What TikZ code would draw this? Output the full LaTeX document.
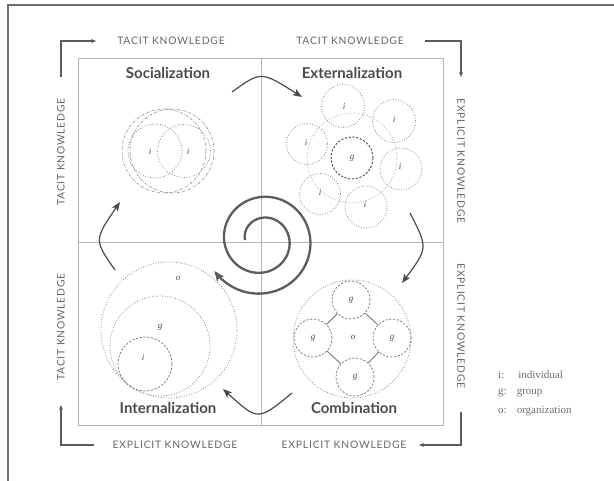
\documentclass[tikz,border=0pt]{standalone}
\usepackage{fontspec}
\setmainfont{Lato}
\newfontfamily\capsfont[LetterSpace=8]{Lato}
\newfontfamily\legfont{Liberation Serif}
\usetikzlibrary{arrows.meta}

\definecolor{ink}{HTML}{4A4A4A}
\definecolor{soft}{HTML}{8A8A8A}
\definecolor{gridc}{HTML}{B4B4B4}
\definecolor{framec}{HTML}{6E6E6E}

\begin{document}
\begin{tikzpicture}[x=1pt,y=-1pt,
  axislabel/.style={font=\capsfont\fontsize{10.3}{11}\selectfont, text=ink!85, inner sep=1pt},
  bracket/.style={draw=ink!90, line width=1.1pt, -{Stealth[length=5pt,width=4pt]}},
  qtitle/.style={font=\bfseries\fontsize{15}{17}\selectfont, text=ink},
  cyclearrow/.style={draw=ink, line width=1.2pt, -{Stealth[length=9pt,width=7pt,inset=2pt]}},
  ring/.style={circle, inner sep=0pt, minimum size=#1},
  dotline/.style={draw=soft, dash pattern=on 0.9pt off 1.7pt, line width=0.75pt},
  dashline/.style={draw=ink!75, dash pattern=on 2.2pt off 1.6pt, line width=0.75pt},
  dashdot/.style={draw=ink!60, dash pattern=on 2.4pt off 1.4pt on 0.6pt off 1.4pt, line width=0.7pt},
  lbl/.style={font=\legfont\itshape\fontsize{9}{10}\selectfont, text=ink, inner sep=0pt},
  legend/.style={font=\legfont\fontsize{11}{12}\selectfont, text=ink!80, anchor=west, inner sep=0pt}
]
\useasboundingbox (0,0) rectangle (614,481);

% page frame
\draw[framec, line width=1.3pt] (8,481) -- (8,5) -- (614,5);

% quadrant grid
\draw[gridc, line width=0.9pt] (78,58) rectangle (443,425);
\draw[gridc, line width=0.8pt] (261,58) -- (261,425);
\draw[gridc, line width=0.8pt] (78,242) -- (443,242);

% axis labels
\node[axislabel] (tacitTL) at (171,41) {TACIT KNOWLEDGE};
\node[axislabel] (tacitTR) at (350,41) {TACIT KNOWLEDGE};
\node[axislabel, rotate=-90] (explR1) at (461,161) {EXPLICIT KNOWLEDGE};
\node[axislabel, rotate=-90] (explR2) at (461,326) {EXPLICIT KNOWLEDGE};
\node[axislabel] (explBR) at (344,445) {EXPLICIT KNOWLEDGE};
\node[axislabel] (explBL) at (175,445) {EXPLICIT KNOWLEDGE};
\node[axislabel, rotate=90] (tacitL1) at (61,152) {TACIT KNOWLEDGE};
\node[axislabel, rotate=90] (tacitL2) at (61,327) {TACIT KNOWLEDGE};

% corner brackets
\coordinate (tlA) at (61,77);  \coordinate (tlB) at (96,41);
\coordinate (trA) at (425,41); \coordinate (trB) at (461,77);
\coordinate (brA) at (461,412); \coordinate (brB) at (419,445);
\coordinate (blA) at (94,445); \coordinate (blB) at (61,405);
\draw[bracket] (tlA) |- (tlB);
\draw[bracket] (trA) -| (trB);
\draw[bracket] (brA) |- (brB);
\draw[bracket] (blA) -| (blB);

% quadrant titles
\node[qtitle] (soc) at (168,73) {Socialization};
\node[qtitle] (ext) at (352,73) {Externalization};
\node[qtitle] (int) at (168,408) {Internalization};
\node[qtitle] (com) at (354,408) {Combination};

% socialization: two individuals sharing
\node[ring=84pt, dashdot] (socA) at (164,151) {};
\node[ring=84pt, dashdot] (socB) at (172,151) {};
\node[ring=54pt, dotline] (socI1) at (155,151) {};
\node[ring=53pt, dotline] (socI2) at (184,151) {};
\node[lbl] (socL1) at (150,152) {i};
\node[lbl] (socL2) at (188,152) {i};

% externalization: individuals around a group
\node[ring=90pt, dotline, draw=soft!70] (extO) at (352,158) {};
\node[ring=42pt, dashline, draw=ink, line width=0.9pt] (extG) at (352,158) {};
\node[ring=43pt, dotline] (extI1) at (343,106) {};
\node[ring=43pt, dotline] (extI2) at (394,121) {};
\node[ring=42pt, dotline] (extI3) at (401,169) {};
\node[ring=42pt, dotline] (extI4) at (366,207) {};
\node[ring=41pt, dotline] (extI5) at (320,194) {};
\node[ring=41pt, dotline] (extI6) at (307,144) {};
\node[lbl] at (352,158) {g};
\node[lbl] at (344,107) {i};
\node[lbl] at (394,120) {i};
\node[lbl] at (400,167) {i};
\node[lbl] at (365,205) {i};
\node[lbl] at (320,193) {i};
\node[lbl] at (306,143) {i};

% combination: groups inside the organization
\node[ring=118pt, dotline] (comO) at (352,339) {};
\node[ring=38pt, dashline] (comT) at (351,300) {};
\node[ring=38pt, dashline] (comL) at (313,338) {};
\node[ring=38pt, dashline] (comR) at (392,338) {};
\node[ring=38pt, dashline] (comB) at (355,377) {};
\node[lbl] at (351,300) {g};
\node[lbl] at (313,338) {g};
\node[lbl] at (392,338) {g};
\node[lbl] at (355,377) {g};
\node[lbl] at (353,337) {o};
\draw[ink!80, line width=0.8pt] (comT) -- (comL);
\draw[ink!80, line width=0.8pt] (comT) -- (comR);
\draw[ink!80, line width=0.8pt] (comB) -- (comL);
\draw[ink!80, line width=0.8pt] (comB) -- (comR);

% internalization: nested organization, group, individual
\node[ring=136pt, dotline] (intO) at (169,330) {};
\node[ring=100pt, dotline] (intG) at (160,346) {};
\node[ring=54pt, dashline] (intI) at (145,364) {};
\node[lbl] at (178,278) {o};
\node[lbl] at (160,327) {g};
\node[lbl] at (143,358) {i};

% knowledge conversion cycle
\coordinate (c1s) at (232,92);  \coordinate (c1e) at (302,97);
\coordinate (c2s) at (410,213); \coordinate (c2e) at (402,283);
\coordinate (c3s) at (292,393); \coordinate (c3e) at (223,389);
\coordinate (c4s) at (115,270); \coordinate (c4e) at (120,202);
\draw[cyclearrow] (c1s) .. controls (261,71) .. (c1e);
\draw[cyclearrow] (c2s) .. controls (428,248) .. (c2e);
\draw[cyclearrow] (c3s) .. controls (258,421) .. (c3e);
\draw[cyclearrow] (c4s) .. controls (94,240) .. (c4e);

% central spiral
\draw[draw=ink!90, line width=2.3pt, -{Stealth[length=10pt,width=8pt,inset=2pt]}]
  plot[domain=180:867, samples=240, smooth]
  ({262+(17+0.058*(\x-180))*cos(\x)}, {240+(17+0.058*(\x-180))*sin(\x)});

% legend
\node[legend] (legI) at (498,375) {i:\hspace{14pt}individual};
\node[legend] (legG) at (498,393) {g:\hspace{10pt}group};
\node[legend] (legO) at (498,411) {o:\hspace{10pt}organization};
\end{tikzpicture}
\end{document}
